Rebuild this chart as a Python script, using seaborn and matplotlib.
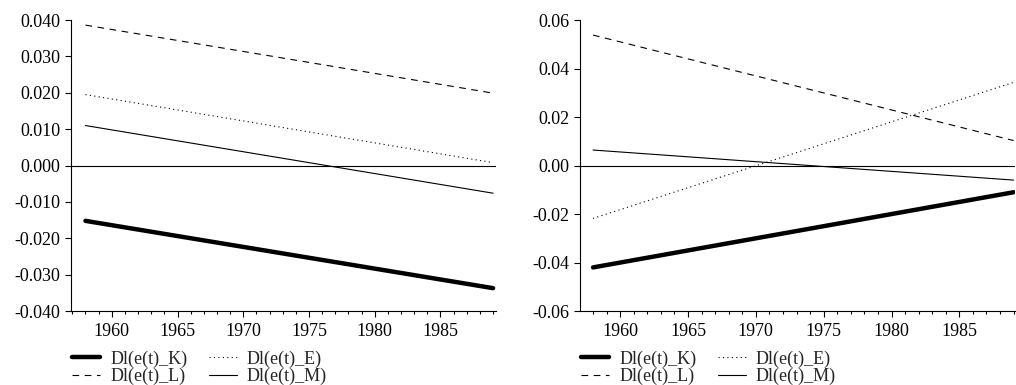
import numpy as np
import pandas as pd
import matplotlib.pyplot as plt
from matplotlib.ticker import MultipleLocator, FormatStrFormatter
import seaborn as sns

#-------Data (endpoints)
years = [1958, 1989]
series = ['Dl(e(t)_K)', 'Dl(e(t)_E)', 'Dl(e(t)_L)', 'Dl(e(t)_M)']

left_K = [-0.0152, -0.0337]
left_E = [0.0195, 0.0008]
left_L = [0.0386, 0.0199]
left_M = [0.0110, -0.0076]

right_K = [-0.0420, -0.0110]
right_E = [-0.0218, 0.0343]
right_L = [0.0538, 0.0103]
right_M = [0.0064, -0.0060]

#-------Settings
sns.set_theme(style="ticks")
plt.rcParams['font.family'] = ['Liberation Serif', 'DejaVu Serif']

styles = {
    'Dl(e(t)_K)': dict(lw=3.2, ls='-'),
    'Dl(e(t)_E)': dict(lw=0.8, ls=(0, (1, 3))),
    'Dl(e(t)_L)': dict(lw=0.8, ls=(0, (6, 5))),
    'Dl(e(t)_M)': dict(lw=0.8, ls='-'),
}
FS = 13

fig = plt.figure(figsize=(10.16, 3.85), dpi=100)
ax1 = fig.add_axes([0.0699, 0.192, 0.418, 0.756])
ax2 = fig.add_axes([0.571, 0.192, 0.428, 0.756])

panels = [
    (ax1, [left_K, left_E, left_L, left_M], (-0.04, 0.04), 0.01, '%.3f', (1956.9, 1989.2)),
    (ax2, [right_K, right_E, right_L, right_M], (-0.06, 0.06), 0.02, '%.2f', (1957.05, 1989.1)),
]

for ax, vals, ylim, step, fmt, xlim in panels:
    ax.axhline(0, color='black', lw=0.8, zorder=1)
    for name, v in zip(series, vals):
        df = pd.DataFrame({'year': years, 'val': v})
        sns.lineplot(data=df, x='year', y='val', ax=ax, color='black',
                     linestyle=styles[name]['ls'], linewidth=styles[name]['lw'],
                     label=name, legend=False)
    ax.set_xlim(*xlim)
    ax.set_ylim(*ylim)
    ax.yaxis.set_major_locator(MultipleLocator(step))
    ax.yaxis.set_major_formatter(FormatStrFormatter(fmt))
    ax.xaxis.set_minor_locator(MultipleLocator(1))
    ax.set_xticks([1960, 1965, 1970, 1975, 1980, 1985])
    ax.set_xlabel('')
    ax.set_ylabel('')
    sns.despine(ax=ax)
    for s in ['left', 'bottom']:
        ax.spines[s].set_linewidth(0.8)
        ax.spines[s].set_color('black')
    ax.tick_params(axis='both', which='major', direction='out', length=4, width=0.8,
                   labelsize=FS, colors='black', pad=3.5)
    ax.tick_params(axis='x', which='minor', direction='out', length=2.5, width=0.8, colors='black')
    ax.tick_params(axis='x', which='major', pad=4.5)

    handles, labels = ax.get_legend_handles_labels()
    order = [0, 2, 1, 3]
    ax.legend([handles[i] for i in order], [labels[i] for i in order],
              ncol=2, loc='upper left', bbox_to_anchor=(-0.014, -0.11),
              frameon=False, fontsize=FS, handlelength=1.55, handletextpad=0.55,
              columnspacing=1.2, labelspacing=0.0, borderaxespad=0)

plt.savefig('out.png', dpi=100)
plt.close()
